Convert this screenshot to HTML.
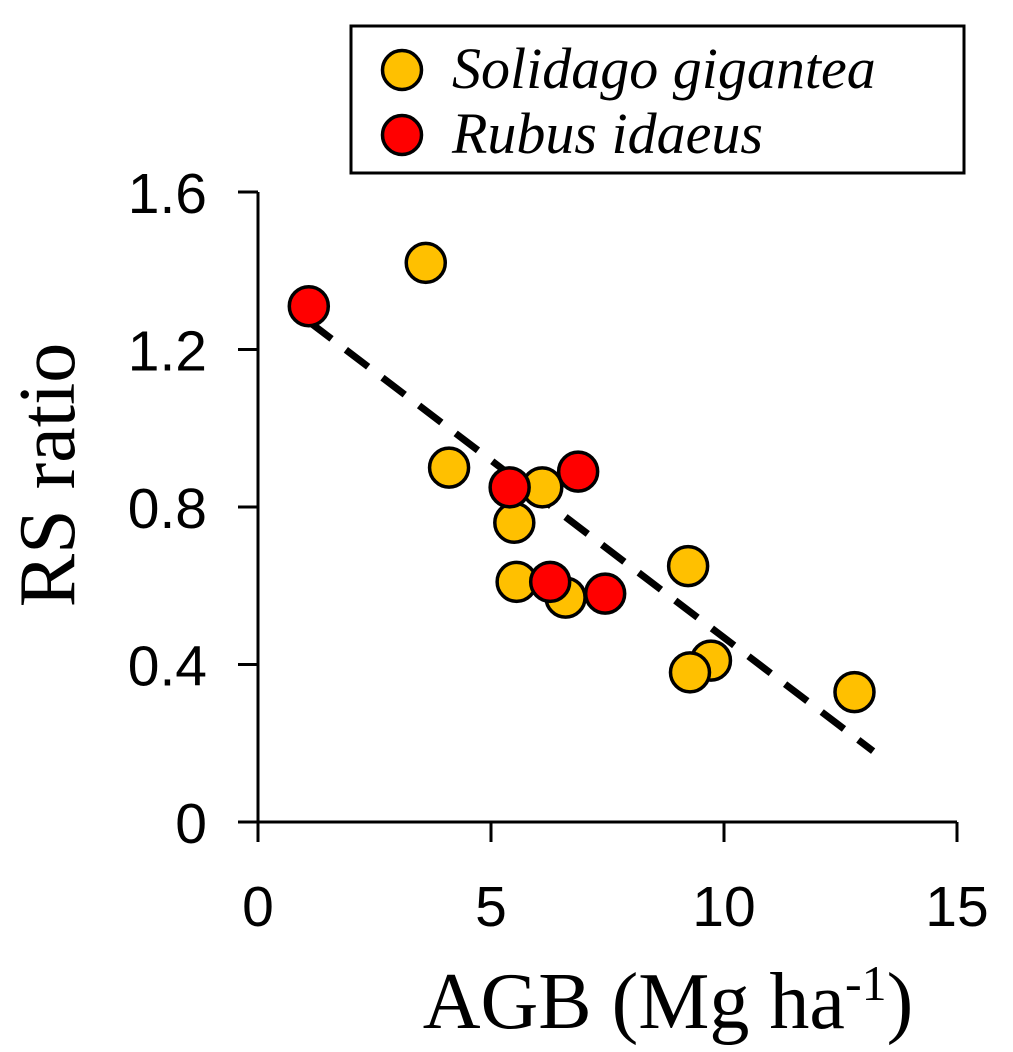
<!DOCTYPE html>
<html><head><meta charset="utf-8"><style>
html,body{margin:0;padding:0;background:#fff;width:1013px;height:1052px;overflow:hidden}
svg{display:block}
</style></head><body>
<svg id="chart" width="1013" height="1052" xmlns="http://www.w3.org/2000/svg"></svg>
<script>
const xTicks=[0,5,10,15];
const yTicks=[0,0.4,0.8,1.2,1.6];
const yTickLabels=["0","0.4","0.8","1.2","1.6"];
const solidagoX=[3.6,4.1,6.1,5.5,5.55,6.6,9.23,9.72,9.27,12.8];
const solidagoY=[1.42,0.90,0.85,0.76,0.61,0.57,0.65,0.41,0.38,0.33];
const rubusX=[1.09,5.4,6.87,6.27,7.45];
const rubusY=[1.31,0.85,0.89,0.61,0.58];
const trendX=[1.1,13.2];
const trendY=[1.27,0.18];

const NS="http://www.w3.org/2000/svg";
const svg=document.getElementById('chart');
const X0=258,X1=957,Y0=822,Y1=192;
const sx=v=>X0+(v-0)/(15-0)*(X1-X0);
const sy=v=>Y0-(v-0)/(1.6-0)*(Y0-Y1);
function mk(tag,attrs,parent){const e=document.createElementNS(NS,tag);for(const k in attrs)e.setAttribute(k,attrs[k]);(parent||svg).appendChild(e);return e;}

const axes=mk('g',{});


const ya=mk('line',{x1:X0,y1:Y1,x2:X0,y2:Y0,stroke:'#000','stroke-width':3},axes);


const xa=mk('line',{x1:X0,y1:Y0,x2:X1,y2:Y0,stroke:'#000','stroke-width':3},axes);


const font='"Liberation Sans", sans-serif';
yTicks.forEach((v,i)=>{
  const t=mk('line',{x1:X0-20,y1:sy(v),x2:X0,y2:sy(v),stroke:'#000','stroke-width':3},axes);
  
  
  const l=mk('text',{x:207,y:sy(v)+21,'text-anchor':'end','font-size':57,'font-family':font},axes);
  l.textContent=yTickLabels[i];
  
  
});
xTicks.forEach(v=>{
  const t=mk('line',{x1:sx(v),y1:Y0,x2:sx(v),y2:Y0+20,stroke:'#000','stroke-width':3},axes);
  
  
  const l=mk('text',{x:sx(v),y:926,'text-anchor':'middle','font-size':57,'font-family':font},axes);
  l.textContent=String(v);
  
  
});
const serif='"Liberation Serif", serif';
const xt=mk('text',{x:668,y:1028,'text-anchor':'middle','font-size':80,'font-family':serif});
xt.innerHTML='AGB (Mg ha<tspan dy="-28" font-size="50">-1</tspan><tspan dy="28">)</tspan>';


const yt=mk('text',{x:0,y:0,'text-anchor':'middle','font-size':80,'font-family':serif,transform:'translate(74,475) rotate(-90)'});
yt.textContent='RS ratio';



const tl=mk('line',{x1:sx(trendX[0]),y1:sy(trendY[0]),x2:sx(trendX[1]),y2:sy(trendY[1]),stroke:'#000','stroke-width':7,'stroke-dasharray':'28 18'});



function pts(xs,ys,fill,name){
  const g=mk('g',{});
  
  
  xs.forEach((x,i)=>{
    const c=mk('circle',{cx:sx(x),cy:sy(ys[i]),r:19.5,fill:fill,stroke:'#000','stroke-width':3.5},g);
    
    
  });
}
pts(solidagoX,solidagoY,'#FFC000','solidago');
pts(rubusX,rubusY,'#FF0000','rubus');

const lg=mk('g',{});


mk('rect',{x:351,y:26,width:613,height:147,fill:'#fff',stroke:'#000','stroke-width':3},lg);
[['#FFC000','Solidago gigantea',70],['#FF0000','Rubus idaeus',135]].forEach(([f,t,y])=>{
  const e=mk('g',{},lg);
  
  
  mk('circle',{cx:402,cy:y,r:19.5,fill:f,stroke:'#000','stroke-width':3.5},e);
  const tx=mk('text',{x:452,y:y+18,'font-size':58,'font-style':'italic','font-family':serif},e);
  tx.textContent=t;
});
</script>
</body></html>
